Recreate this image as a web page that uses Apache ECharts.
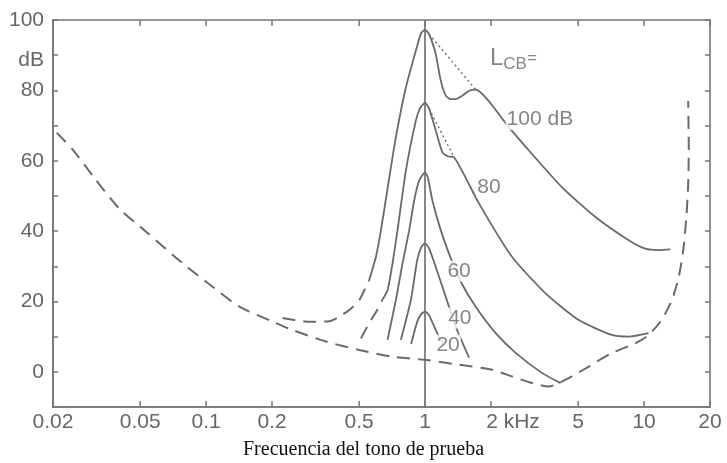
<!DOCTYPE html>
<html><head><meta charset="utf-8">
<script src="https://cdn.jsdelivr.net/npm/echarts@6/dist/echarts.min.js"></script>
<style>html,body{margin:0;padding:0;background:#fff}#c,#ov{width:727px;height:463px;position:absolute;left:0;top:0}#ov{pointer-events:none}</style>
</head><body><div id="c"></div><div id="ov"></div>
<script>
// ---- data (frequency in kHz, level in dB) ----
const xTickValues = [0.02,0.05,0.1,0.2,0.5,1,2,5,10,20];
const xTickLabels = ['0.02','0.05','0.1','0.2','0.5','1','2 kHz','5','10','20'];

// threshold in quiet (dashed)
const thrF  = [0.0208,0.0247,0.031,0.040,0.0535,0.078,0.107,0.142,0.201,0.248,0.353,0.501,0.708,1.0,1.43,2.02,2.49,3.08,3.67,4.08,4.68,5.59,7.11,9.12,10.5,12.0,13.4,14.4,15.1,15.6,15.9,16.0,15.9];
const thrDb = [68,63,55,46.5,39.7,30.9,24.2,18.5,14.3,11.9,8.6,6.2,4.3,3.4,2.0,0.6,-1.3,-3.2,-4.2,-3.2,-1.3,1.5,5.3,8.1,10.5,14.7,20.4,27,34.6,44,53.4,63,77];

// masker 100 dB
const m100dF  = [0.2233,0.2532,0.2965,0.3656,0.4059,0.4508,0.5007,0.5373,0.556];
const m100dDb = [15.3,14.7,14.2,14.4,15.7,17.6,20.4,24.2,26.1];
const m100F  = [0.556,0.5965,0.6286,0.672,0.7358,0.8172,0.92,0.96,1.0,1.043,1.08,1.119,1.18,1.243,1.31,1.381,1.48,1.588,1.703,2.415,2.98,4.212,6.0,8.506,10.13,11.65,13.17];
const m100Db = [26.1,32.7,40.2,51.6,66.7,80.8,92.6,96.3,97.2,96.0,93.5,90.3,82.7,78.5,77.5,77.5,78.5,79.9,80.2,69.5,62.9,52.5,44.0,37.4,35.0,34.6,34.8];
const m100pF  = [1.043,1.703];
const m100pDb = [96.0,80.2];

// masker 80 dB
const m80dF  = [0.5098,0.556,0.6047,0.6373];
const m80dDb = [9.5,13.9,17.6,20.4];
const m80F  = [0.6373,0.674,0.7101,0.7483,0.8172,0.9077,0.95,1.0,1.043,1.119,1.2,1.28,1.356,1.764,2.493,3.55,5.033,7.118,8.506,10.49];
const m80Db = [20.4,23.2,30.8,40.2,57.2,71.4,75.0,76.5,74.8,68.6,62.4,61.2,61.0,47.8,32.7,22.3,14.7,10.5,10.0,11.0];
const m80pF  = [1.043,1.356];
const m80pDb = [74.8,61.0];

// masker 60 dB
const m60F  = [0.674,0.7358,0.786,0.846,0.8917,0.94,1.0,1.03,1.08,1.18,1.31,1.455,1.703,2.101,2.592,3.415,4.155];
const m60Db = [9.1,20.4,30.3,40.2,48.7,54.4,56.7,55.2,48.7,40.2,32.3,25.6,18.5,11.0,5.4,-0.3,-3.2];

// masker 40 dB
const m40F  = [0.7755,0.8613,0.9203,0.96,1.0,1.043,1.119,1.243,1.381,1.588];
const m40Db = [9.1,20.4,31.7,35.4,36.5,35.1,29.8,21.3,12.8,4.0];

// masker 20 dB
const m20F  = [0.8635,0.9203,0.96,1.0,1.043,1.077,1.159,1.222];
const m20Db = [7.9,14.2,16.4,17.1,16.1,14.2,9.9,7.6];

// curve labels
const labelText = ['100 dB','80','60','40','20'];
const labelF    = [3.344,1.958,1.43,1.441,1.274];
const labelDb   = [71.7,52.4,28.6,15.3,7.6];
const lcbF = 1.979, lcbDb = 89;

// ---- chart ----
const X_MIN = 0.02, X_MAX = 20, Y_MIN = -10, Y_MAX = 100;
const GRID = {left: 53, right: 17, top: 20, bottom: 56};
const pairs = (f, d) => f.map((v, i) => [v, d[i]]);
const LINE = '#6a6a6a';
const AX = '#777';
const FONT = 'Liberation Sans';

const solid = (name, f, d) => ({
  name, type: 'line', data: pairs(f, d), showSymbol: false, smooth: 0.2,
  lineStyle: {color: LINE, width: 1.8}, silent: true, z: 3
});
const dashed = (name, f, d) => ({
  name, type: 'line', data: pairs(f, d), showSymbol: false, smooth: 0.25,
  lineStyle: {color: LINE, width: 2, type: [13, 8]}, silent: true, z: 3
});
const dotted = (name, f, d) => ({
  name, type: 'line', data: pairs(f, d), showSymbol: false,
  lineStyle: {color: LINE, width: 1.4, type: [2, 3]}, silent: true, z: 3
});

const labelData = labelText.map((t, i) => ({name: t, value: [labelF[i], labelDb[i]]}));

// main chart: curves, labels, axis text
const chart = echarts.init(document.getElementById('c'));
chart.setOption({
  animation: false,
  backgroundColor: '#fff',
  grid: GRID,
  xAxis: {
    type: 'log', logBase: 10, min: X_MIN, max: X_MAX, position: 'bottom',
    axisLine: {show: true, onZero: false, lineStyle: {color: AX, width: 1.6}},
    axisTick: {show: false}, minorTick: {show: false}, splitLine: {show: false},
    axisLabel: {
      show: true, customValues: xTickValues, margin: 5, color: '#666', fontFamily: FONT, fontSize: 21,
      formatter: v => {
        let k = 0, best = 1e9;
        xTickValues.forEach((t, i) => { const d = Math.abs(Math.log(t) - Math.log(v)); if (d < best) { best = d; k = i; } });
        return xTickValues[k] === 2 ? '{k|' + xTickLabels[k] + '}' : xTickLabels[k];
      },
      rich: {k: {fontFamily: FONT, fontSize: 21, color: '#666', padding: [0, 0, 0, 44]}}
    }
  },
  yAxis: {
    type: 'value', min: Y_MIN, max: Y_MAX, interval: 10, position: 'left',
    axisLine: {show: true, onZero: false, lineStyle: {color: AX, width: 1.6}},
    axisTick: {show: false}, splitLine: {show: false},
    axisLabel: {
      show: true, margin: 9, color: '#666', fontFamily: FONT, fontSize: 21,
      formatter: v => v === 90 ? '{d|dB}' : (v >= 0 && v % 20 === 0 ? String(v) : ''),
      rich: {d: {fontFamily: FONT, fontSize: 21, color: '#666', padding: [10, 0, 0, 0]}}
    }
  },
  graphic: [{
    type: 'text', left: 'center', top: 440,
    style: {text: 'Frecuencia del tono de prueba', font: '20px "Liberation Serif"', fill: '#111'},
    x: 12
  }],
  series: [
    Object.assign(dashed('threshold', thrF, thrDb), {
      markLine: {
        silent: true, symbol: ['none', 'none'], label: {show: false},
        lineStyle: {color: LINE, width: 1.6, type: 'solid'},
        data: [{xAxis: 1}]
      }
    }),
    dashed('m100d', m100dF, m100dDb),
    solid('m100', m100F, m100Db),
    dotted('m100p', m100pF, m100pDb),
    dashed('m80d', m80dF, m80dDb),
    solid('m80', m80F, m80Db),
    dotted('m80p', m80pF, m80pDb),
    solid('m60', m60F, m60Db),
    solid('m40', m40F, m40Db),
    solid('m20', m20F, m20Db),
    {
      name: 'labels', type: 'scatter', symbolSize: 0, z: 10, silent: true,
      data: labelData,
      label: {
        show: true, position: [0, 0], align: 'center', verticalAlign: 'middle',
        formatter: p => p.name, color: '#666', fontFamily: FONT, fontSize: 21,
        backgroundColor: '#fff', padding: [0, 1]
      }
    },
    {
      name: 'lcb', type: 'scatter', symbolSize: 0, z: 10, silent: true,
      data: [{name: 'L', value: [lcbF, lcbDb]}],
      label: {
        show: true, position: [0, 0], align: 'left', verticalAlign: 'middle',
        formatter: '{l|L}{s|CB}{e|=}',
        rich: {
          l: {fontFamily: FONT, fontSize: 24, color: '#666', lineHeight: 30, verticalAlign: 'middle'},
          s: {fontFamily: FONT, fontSize: 17, color: '#666', lineHeight: 30, verticalAlign: 'bottom', padding: [0, 0, 1, 0]},
          e: {fontFamily: FONT, fontSize: 17, color: '#666', lineHeight: 30, verticalAlign: 'middle'}
        }
      }
    }
  ]
});

// overlay chart: frame and inward ticks on all four sides (same scales)
const mkX = pos => ({
  type: 'log', logBase: 10, min: X_MIN, max: X_MAX, position: pos,
  axisLine: {show: true, onZero: false, lineStyle: {color: AX, width: 1.6}},
  axisTick: {show: false}, minorTick: {show: false}, splitLine: {show: false}, axisLabel: {show: false}
});
const mkY = pos => ({
  type: 'value', min: Y_MIN, max: Y_MAX, interval: 10, position: pos,
  axisLine: {show: true, onZero: false, lineStyle: {color: AX, width: 1.6}},
  axisTick: {show: true, inside: true, length: 5, lineStyle: {color: AX, width: 1.5}},
  splitLine: {show: false}, axisLabel: {show: false}
});
const ov = echarts.init(document.getElementById('ov'));
ov.setOption({
  animation: false,
  grid: GRID,
  xAxis: [mkX('bottom'), mkX('top')],
  yAxis: [mkY('left'), mkY('right')],
  series: [
    {type: 'line', data: pairs(thrF, thrDb), showSymbol: false, silent: true, lineStyle: {opacity: 0}},
    {type: 'line', data: pairs(thrF, thrDb), showSymbol: false, silent: true, lineStyle: {opacity: 0}, xAxisIndex: 1, yAxisIndex: 1},
    {
      name: 'xticks', type: 'custom', silent: true,
      data: xTickValues.map(v => [v, Y_MIN]),
      renderItem: (params, api) => {
        const v = api.value(0);
        const b = api.coord([v, Y_MIN]);
        const t = api.coord([v, Y_MAX]);
        const st = {stroke: AX, lineWidth: 1.5};
        return {type: 'group', children: [
          {type: 'line', shape: {x1: b[0], y1: b[1], x2: b[0], y2: b[1] - 6}, style: st},
          {type: 'line', shape: {x1: t[0], y1: t[1], x2: t[0], y2: t[1] + 6}, style: st}
        ]};
      }
    }
  ]
});
</script>
</body></html>
